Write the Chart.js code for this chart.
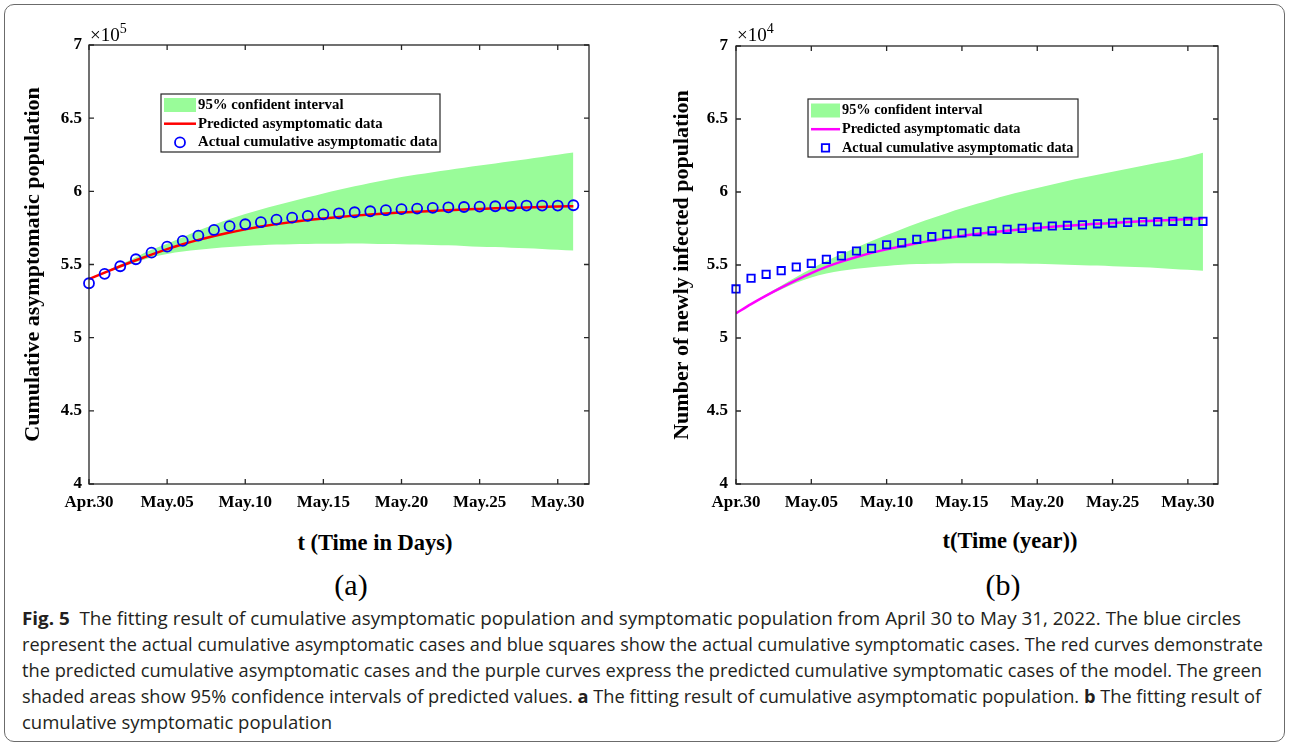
<!DOCTYPE html>
<html>
<head>
<meta charset="utf-8">
<script src="https://cdn.jsdelivr.net/npm/chart.js@4.4.1/dist/chart.umd.min.js"></script>
<style>
  body { margin: 0; background: #fff; }
  #page { position: relative; width: 1290px; height: 743px; overflow: hidden; }
  .frame { position: absolute; left: 4px; top: 4px; width: 1281px; height: 738px; box-sizing: border-box;
           border: 1px solid #6b6b6b; border-radius: 10px; }
  canvas { position: absolute; top: 0; }
  #chartA { left: 0; }
  #chartB { left: 640px; }
  .lbl { position: absolute; font-family: 'Liberation Serif', serif; color: #000; white-space: nowrap;
         transform: translate(-50%, -50%); }
  .xt { font-weight: bold; font-size: 22.5px; }
  .sub { font-size: 30px; }
  .exp { position: absolute; font-family: 'Liberation Serif', serif; font-size: 19px; line-height: 19px; white-space: nowrap; }
  .exp sup { font-size: 14px; vertical-align: 8px; line-height: 0; }
  .cap { position: absolute; left: 22px; font-family: 'Open Sans', sans-serif; font-size: 18.5px; line-height: 26px;
         color: #231f20; white-space: nowrap; transform-origin: 0 0; }
</style>
</head>
<body>
<div id="page">
  <div class="frame"></div>
  <canvas id="chartA" width="640" height="520"></canvas>
  <canvas id="chartB" width="650" height="520"></canvas>

  <div class="exp" style="left:90px; top:25px;">&times;10<sup>5</sup></div>
  <div class="exp" style="left:737px; top:25px;">&times;10<sup>4</sup></div>

  <div class="lbl xt" style="left:375px; top:543px;">t (Time in Days)</div>
  <div class="lbl xt" style="left:1010px; top:541px;">t(Time (year))</div>
  <div class="lbl sub" style="left:351px; top:585px;">(a)</div>
  <div class="lbl sub" style="left:1003px; top:585px;">(b)</div>

  <div class="cap" data-end="1241" style="top:605px;"><b>Fig. 5</b>&nbsp; The fitting result of cumulative asymptomatic population and symptomatic population from April 30 to May 31, 2022. The blue circles</div>
  <div class="cap" data-end="1263" style="top:631px;">represent the actual cumulative asymptomatic cases and blue squares show the actual cumulative symptomatic cases. The red curves demonstrate</div>
  <div class="cap" data-end="1262" style="top:657px;">the predicted cumulative asymptomatic cases and the purple curves express the predicted cumulative symptomatic cases of the model. The green</div>
  <div class="cap" data-end="1261" style="top:683px;">shaded areas show 95% confidence intervals of predicted values. <b>a</b> The fitting result of cumulative asymptomatic population. <b>b</b> The fitting result of</div>
  <div class="cap" data-end="332" style="top:709px;">cumulative symptomatic population</div>
</div>

<script>
// days since Apr.30
const days = [0, 1, 2, 3, 4, 5, 6, 7, 8, 9, 10, 11, 12, 13, 14, 15,
              16, 17, 18, 19, 20, 21, 22, 23, 24, 25, 26, 27, 28, 29, 30, 31];
const tickDays = [0, 5, 10, 15, 20, 25, 30];
const tickLabels = ['Apr.30', 'May.05', 'May.10', 'May.15', 'May.20', 'May.25', 'May.30'];
const yTicks = [4, 4.5, 5, 5.5, 6, 6.5, 7];

// (a) cumulative asymptomatic, x10^5
const asymActual = [5.372, 5.436, 5.488, 5.536, 5.581, 5.622, 5.661, 5.697, 5.736, 5.762, 5.775, 5.789,
                    5.807, 5.820, 5.832, 5.843, 5.850, 5.857, 5.864, 5.871, 5.878, 5.882, 5.887, 5.891,
                    5.893, 5.896, 5.898, 5.900, 5.903, 5.903, 5.903, 5.905];
const asymPredicted = [5.401, 5.445, 5.488, 5.529, 5.568, 5.605, 5.638, 5.668, 5.695, 5.719, 5.740, 5.759,
                       5.776, 5.791, 5.804, 5.815, 5.825, 5.834, 5.842, 5.849, 5.855, 5.861, 5.866, 5.871,
                       5.876, 5.880, 5.884, 5.887, 5.890, 5.893, 5.896, 5.898];
const asymUpper = [5.401, 5.450, 5.500, 5.550, 5.600, 5.642, 5.687, 5.732, 5.772, 5.811, 5.845, 5.876,
                   5.905, 5.933, 5.959, 5.985, 6.010, 6.034, 6.057, 6.078, 6.098, 6.115, 6.131, 6.146,
                   6.161, 6.176, 6.191, 6.205, 6.220, 6.235, 6.250, 6.265];
const asymLower = [5.401, 5.440, 5.478, 5.515, 5.550, 5.572, 5.588, 5.600, 5.611, 5.620, 5.627, 5.632,
                   5.636, 5.639, 5.640, 5.641, 5.642, 5.643, 5.642, 5.640, 5.639, 5.637, 5.634, 5.632,
                   5.627, 5.622, 5.619, 5.615, 5.611, 5.606, 5.600, 5.595];

// (b) cumulative symptomatic, x10^4
const symActual = [5.336, 5.409, 5.436, 5.461, 5.486, 5.511, 5.539, 5.562, 5.596, 5.614, 5.639, 5.652,
                   5.676, 5.694, 5.712, 5.719, 5.728, 5.734, 5.744, 5.751, 5.760, 5.767, 5.771, 5.775,
                   5.782, 5.787, 5.792, 5.796, 5.796, 5.799, 5.799, 5.799];
const symPredicted = [5.169, 5.232, 5.290, 5.345, 5.397, 5.445, 5.487, 5.523, 5.555, 5.583, 5.607, 5.629,
                      5.649, 5.667, 5.684, 5.699, 5.712, 5.724, 5.735, 5.745, 5.754, 5.762, 5.769, 5.776,
                      5.782, 5.788, 5.794, 5.799, 5.804, 5.809, 5.814, 5.819];
const symUpper = [5.169, 5.236, 5.298, 5.358, 5.418, 5.474, 5.527, 5.575, 5.620, 5.664, 5.705, 5.745,
                  5.784, 5.820, 5.855, 5.888, 5.919, 5.949, 5.977, 6.003, 6.028, 6.052, 6.075, 6.097,
                  6.118, 6.139, 6.160, 6.180, 6.200, 6.220, 6.242, 6.268];
const symLower = [5.169, 5.228, 5.282, 5.332, 5.378, 5.414, 5.441, 5.460, 5.474, 5.485, 5.494, 5.501,
                  5.506, 5.509, 5.511, 5.512, 5.512, 5.512, 5.511, 5.510, 5.508, 5.505, 5.502, 5.499,
                  5.496, 5.492, 5.488, 5.484, 5.479, 5.473, 5.467, 5.461];

const BAND = 'rgb(153, 252, 153)';
const SERIF = "'Liberation Serif', serif";

const toXY = (vals) => days.map((d, i) => ({ x: d, y: vals[i] }));

// box around plot with inward ticks (matlab look)
const boxFrame = {
  id: 'boxFrame',
  afterDatasetsDraw(chart) {
    const { ctx, chartArea: a, scales: { x, y } } = chart;
    ctx.save();
    ctx.strokeStyle = '#262626';
    ctx.lineWidth = 1.3;
    ctx.strokeRect(a.left, a.top, a.right - a.left, a.bottom - a.top);
    ctx.beginPath();
    x.ticks.forEach(t => {
      const px = x.getPixelForValue(t.value);
      ctx.moveTo(px, a.bottom); ctx.lineTo(px, a.bottom - 5);
      ctx.moveTo(px, a.top); ctx.lineTo(px, a.top + 5);
    });
    y.ticks.forEach(t => {
      const py = y.getPixelForValue(t.value);
      ctx.moveTo(a.left, py); ctx.lineTo(a.left + 5, py);
      ctx.moveTo(a.right, py); ctx.lineTo(a.right - 5, py);
    });
    ctx.stroke();
    ctx.restore();
  }
};

const boxLegend = {
  id: 'boxLegend',
  afterDraw(chart, args, o) {
    const ctx = chart.ctx;
    ctx.save();
    ctx.fillStyle = '#fff';
    ctx.fillRect(o.left, o.top, o.width, o.height);
    ctx.strokeStyle = '#262626';
    ctx.lineWidth = 1.2;
    ctx.strokeRect(o.left, o.top, o.width, o.height);
    const items = chart.data.datasets.filter(d => d.legendKind)
      .sort((a, b) => a.legendRank - b.legendRank);
    items.forEach((d, i) => {
      const cy = o.top + o.firstRow + i * o.rowGap;
      const x0 = o.left + 3;
      if (d.legendKind === 'patch') {
        ctx.fillStyle = d.backgroundColor;
        ctx.fillRect(x0, cy - 7, o.patch, 14);
      } else if (d.legendKind === 'line') {
        ctx.strokeStyle = d.borderColor;
        ctx.lineWidth = d.borderWidth;
        ctx.beginPath();
        ctx.moveTo(x0, cy); ctx.lineTo(x0 + o.patch, cy);
        ctx.stroke();
      } else {
        ctx.strokeStyle = d.borderColor;
        ctx.fillStyle = 'rgba(0,0,0,0)';
        ctx.lineWidth = d.pointBorderWidth;
        Chart.helpers.drawPoint(ctx, { pointStyle: d.pointStyle, radius: d.pointRadius, borderWidth: d.pointBorderWidth, rotation: 0 },
          x0 + o.patch / 2, cy);
      }
      ctx.fillStyle = '#000';
      ctx.font = 'bold ' + o.fontSize + 'px ' + SERIF;
      ctx.textBaseline = 'middle';
      ctx.textAlign = 'left';
      ctx.fillText(d.label, x0 + o.patch + 2, cy);
    });
    ctx.restore();
  }
};

function makeChart(id, cfg) {
  return new Chart(document.getElementById(id), {
    type: 'line',
    data: {
      datasets: [
        {
          label: 'Actual cumulative asymptomatic data',
          data: toXY(cfg.actual),
          showLine: false,
          pointStyle: cfg.marker,
          pointRadius: cfg.marker === 'rect' ? 5.2 : 5,
          pointBorderWidth: 1.8,
          borderColor: '#0000ff',
          pointBackgroundColor: 'rgba(0,0,0,0)',
          clip: false,
          order: 0,
          legendKind: 'marker', legendRank: 3
        },
        {
          label: 'Predicted asymptomatic data',
          data: toXY(cfg.predicted),
          borderColor: cfg.lineColor,
          borderWidth: 2.5,
          pointRadius: 0,
          cubicInterpolationMode: 'monotone',
          fill: false,
          order: 1,
          legendKind: 'line', legendRank: 2
        },
        {
          label: '95% confident interval',
          data: toXY(cfg.upper),
          borderWidth: 0,
          pointRadius: 0,
          backgroundColor: BAND,
          cubicInterpolationMode: 'monotone',
          fill: '+1',
          order: 2,
          legendKind: 'patch', legendRank: 1
        },
        {
          label: 'lower bound',
          data: toXY(cfg.lower),
          borderWidth: 0,
          pointRadius: 0,
          cubicInterpolationMode: 'monotone',
          fill: false,
          order: 3
        }
      ]
    },
    options: {
      responsive: false,
      animation: false,
      devicePixelRatio: 1,
      events: [],
      layout: { padding: { left: 0, top: cfg.top, right: cfg.right, bottom: 0 } },
      scales: {
        x: {
          type: 'linear', min: 0, max: 32,
          afterBuildTicks: s => { s.ticks = tickDays.map(v => ({ value: v })); },
          afterFit: s => { s.height = 520 - 484; },
          grid: { display: false, drawTicks: false },
          border: { display: false },
          ticks: {
            autoSkip: false, maxRotation: 0, padding: 8, color: '#000',
            font: { family: SERIF, size: 17, weight: 'bold' },
            callback: v => tickLabels[tickDays.indexOf(v)]
          }
        },
        y: {
          min: 4, max: 7,
          afterBuildTicks: s => { s.ticks = yTicks.map(v => ({ value: v })); },
          afterFit: s => { s.width = cfg.yWidth; },
          grid: { display: false, drawTicks: false },
          border: { display: false },
          ticks: {
            padding: cfg.tickPad, color: '#000',
            font: { family: SERIF, size: 17, weight: 'bold' },
            callback: v => String(v)
          },
          title: {
            display: true, text: cfg.yTitle, color: '#000',
            font: { family: SERIF, size: 22, weight: 'bold' },
            padding: { top: cfg.titlePad, bottom: 0 }
          }
        }
      },
      plugins: {
        legend: { display: false },
        tooltip: { enabled: false },
        boxLegend: cfg.legend
      }
    },
    plugins: [boxFrame, boxLegend]
  });
}

makeChart('chartA', {
  actual: asymActual, predicted: asymPredicted, upper: asymUpper, lower: asymLower,
  marker: 'circle', lineColor: '#ff0000',
  top: 45, right: 51, yWidth: 89, tickPad: 7, titlePad: 20,
  yTitle: 'Cumulative asymptomatic population',
  legend: { left: 161, top: 94, width: 279, height: 58, firstRow: 11, rowGap: 18.7, patch: 32, fontSize: 14.8 }
});

makeChart('chartB', {
  actual: symActual, predicted: symPredicted, upper: symUpper, lower: symLower,
  marker: 'rect', lineColor: '#ff00ff',
  top: 46, right: 72, yWidth: 96, tickPad: 8, titlePad: 29,
  yTitle: 'Number of newly infected population',
  legend: { left: 168, top: 99, width: 270, height: 58, firstRow: 11.5, rowGap: 18.7, patch: 29, fontSize: 14.3 }
});

// caption lines: stretch each one to where it ends in the figure
document.querySelectorAll('.cap').forEach(el => {
  const w = el.getBoundingClientRect().width;
  const sx = (Number(el.dataset.end) - 22) / w;
  el.style.transform = 'scaleX(' + sx.toFixed(4) + ')';
});
</script>
</body>
</html>
